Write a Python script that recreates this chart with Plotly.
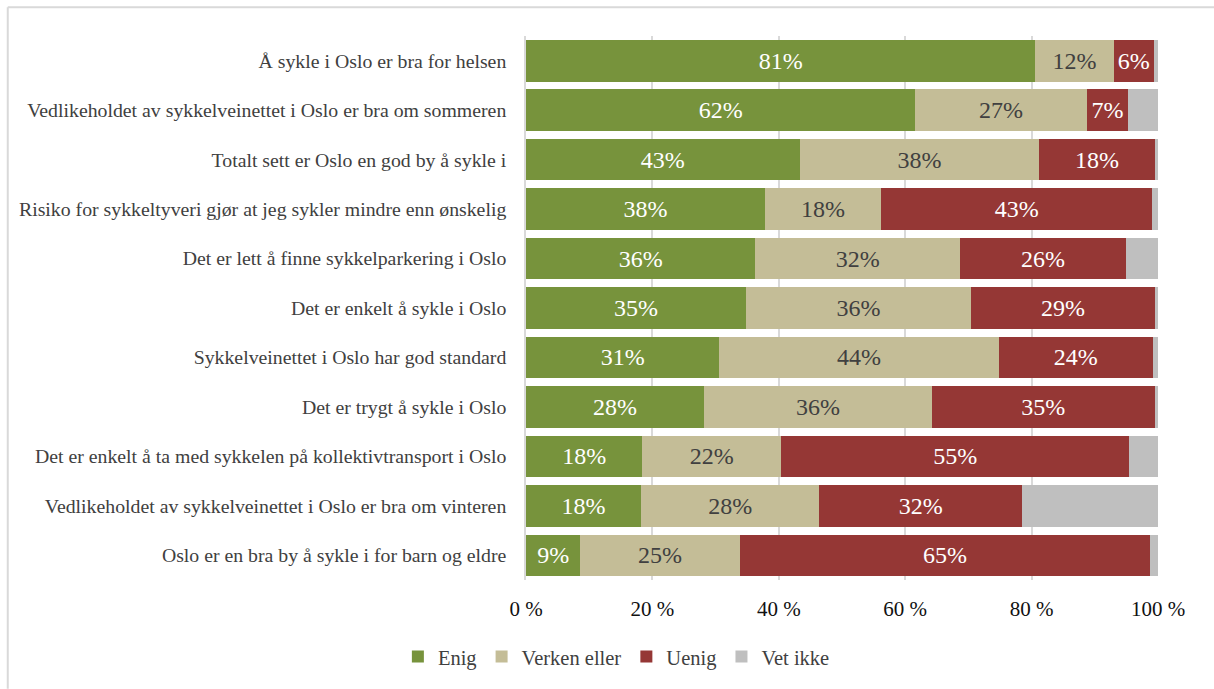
import plotly.graph_objects as go

# Survey statements (top to bottom)
statements = [
    "Å sykle i Oslo er bra for helsen",
    "Vedlikeholdet av sykkelveinettet i Oslo er bra om sommeren",
    "Totalt sett er Oslo en god by å sykle i",
    "Risiko for sykkeltyveri gjør at jeg sykler mindre enn ønskelig",
    "Det er lett å finne sykkelparkering i Oslo",
    "Det er enkelt å sykle i Oslo",
    "Sykkelveinettet i Oslo har god standard",
    "Det er trygt å sykle i Oslo",
    "Det er enkelt å ta med sykkelen på kollektivtransport i Oslo",
    "Vedlikeholdet av sykkelveinettet i Oslo er bra om vinteren",
    "Oslo er en bra by å sykle i for barn og eldre",
]

# Response shares in percent
enig = [80.6, 61.6, 43.3, 37.8, 36.3, 34.8, 30.6, 28.2, 18.4, 18.2, 8.6]
verken = [12.4, 27.1, 37.9, 18.4, 32.4, 35.6, 44.2, 36.0, 22.0, 28.2, 25.2]
uenig = [6.3, 6.6, 18.3, 42.9, 26.2, 29.1, 24.4, 35.3, 55.0, 32.1, 65.0]
vet_ikke = [0.7, 4.7, 0.5, 0.9, 5.1, 0.5, 0.8, 0.5, 4.6, 21.5, 1.2]

tick_vals = [0, 20, 40, 60, 80, 100]
tick_text = ["0 %", "20 %", "40 %", "60 %", "80 %", "100 %"]

FONT = "Liberation Serif"

series = [
    ("Enig", enig, "#77933C", "white", True),
    ("Verken eller", verken, "#C4BD97", "#404040", True),
    ("Uenig", uenig, "#953735", "white", True),
    ("Vet ikke", vet_ikke, "#BFBFBF", "#404040", False),
]

fig = go.Figure()
for name, vals, color, txtcolor, labelled in series:
    fig.add_trace(go.Bar(
        name=name,
        y=statements,
        x=vals,
        orientation="h",
        marker=dict(color=color, line=dict(width=0)),
        text=[f"{v:.0f}%" for v in vals] if labelled else None,
        textposition="inside" if labelled else "none",
        insidetextanchor="middle",
        textangle=0,
        textfont=dict(family=FONT, size=24, color=txtcolor),
        hoverinfo="skip",
    ))

fig.update_layout(
    barmode="stack",
    bargap=0.16,
    width=1214,
    height=689,
    margin=dict(l=526, r=56, t=36, b=107),
    paper_bgcolor="white",
    plot_bgcolor="white",
    font=dict(family=FONT, size=19, color="#404040"),
    xaxis=dict(
        range=[0, 100],
        tickvals=tick_vals,
        ticktext=tick_text,
        showgrid=True,
        gridcolor="#D9D9D9",
        gridwidth=1.5,
        zeroline=False,
        showline=False,
        tickfont=dict(family=FONT, size=21, color="#111111"),
        ticks="",
        ticklabelstandoff=14,
        fixedrange=True,
    ),
    yaxis=dict(
        autorange="reversed",
        showline=True,
        linecolor="#D9D9D9",
        linewidth=1.5,
        ticks="",
        ticklabelstandoff=14,
        tickfont=dict(family=FONT, size=19.8, color="#404040"),
        fixedrange=True,
    ),
    legend=dict(
        orientation="h",
        x=0.143,
        xanchor="center",
        y=-0.141,
        yanchor="middle",
        font=dict(family=FONT, size=20.5, color="#404040"),
        itemwidth=30,
        traceorder="normal",
    ),
    shapes=[
        # light frame around the chart (left and top edges)
        dict(type="line", xref="paper", yref="paper",
             x0=-0.82, x1=-0.82, y0=1.053, y1=-0.2,
             line=dict(color="#D9D9D9", width=2)),
        dict(type="line", xref="paper", yref="paper",
             x0=-0.82, x1=1.1, y0=1.053, y1=1.053,
             line=dict(color="#D9D9D9", width=2)),
    ],
)

fig.write_html("out.html")
